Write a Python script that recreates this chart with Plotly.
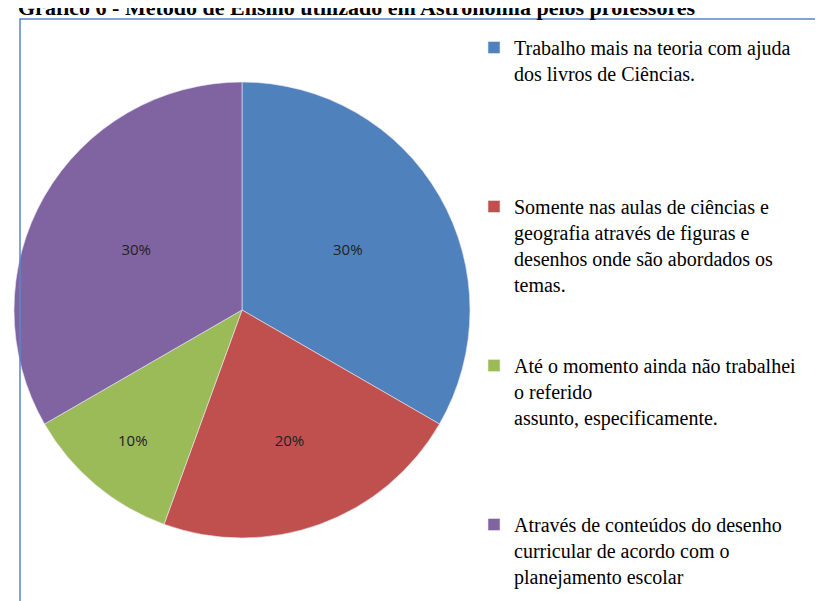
import plotly.graph_objects as go

W, H = 823, 601

labels = [
    "Trabalho mais na teoria com ajuda<br>dos livros de Ciências.",
    "Somente nas aulas de ciências e<br>geografia através de figuras e<br>desenhos onde são abordados os<br>temas.",
    "Até o momento ainda não trabalhei<br>o referido<br>assunto, especificamente.",
    "Através de conteúdos do desenho<br>curricular de acordo com o<br>planejamento escolar",
]
values = [30, 20, 10, 30]
colors = ["#4F81BD", "#C0504D", "#9BBB59", "#8064A2"]
title_text = "Gráfico 6 - Método de Ensino utilizado em Astronomia pelos professores"

# pad legend entries to equal height so they spread like the original
pad_lines = [4, 2, 3, 0]
legend_names = [lab + "<br> " * n for lab, n in zip(labels, pad_lines)]


def px(x):
    return x / W


def py(y):
    return 1 - y / H


cx, cy, r = 234, 302, 228

fig = go.Figure()
fig.add_trace(go.Pie(
    labels=legend_names,
    values=values,
    marker=dict(colors=colors, line=dict(color="#e8e8f0", width=0.6)),
    sort=False,
    direction="clockwise",
    rotation=0,
    texttemplate="%{value}%",
    textposition="inside",
    insidetextorientation="horizontal",
    textfont=dict(family="Open Sans, sans-serif", size=15, color="#222222"),
    domain=dict(x=[px(cx - r), px(cx + r)], y=[py(cy + r), py(cy - r)]),
    hoverinfo="label+value",
))

# blue frame around chart area
fig.add_shape(type="rect", xref="paper", yref="paper",
              x0=px(12), x1=px(820), y0=-0.05, y1=py(11),
              line=dict(color="#5B87C5", width=1.5))

fig.add_annotation(
    text="<b>" + title_text + "</b>",
    xref="paper", yref="paper", x=px(8), y=py(14),
    xanchor="left", yanchor="bottom", showarrow=False,
    font=dict(family="Liberation Serif, serif", size=22, color="black"),
)

fig.update_layout(
    width=W, height=H,
    margin=dict(l=0, r=0, t=0, b=0),
    paper_bgcolor="white",
    plot_bgcolor="white",
    showlegend=True,
    legend=dict(
        x=px(466), y=py(20), xanchor="left", yanchor="top",
        valign="top",
        font=dict(family="Liberation Serif, serif", size=20, color="black"),
        itemwidth=30,
        bgcolor="rgba(0,0,0,0)",
    ),
)

fig.write_html("out.html")
